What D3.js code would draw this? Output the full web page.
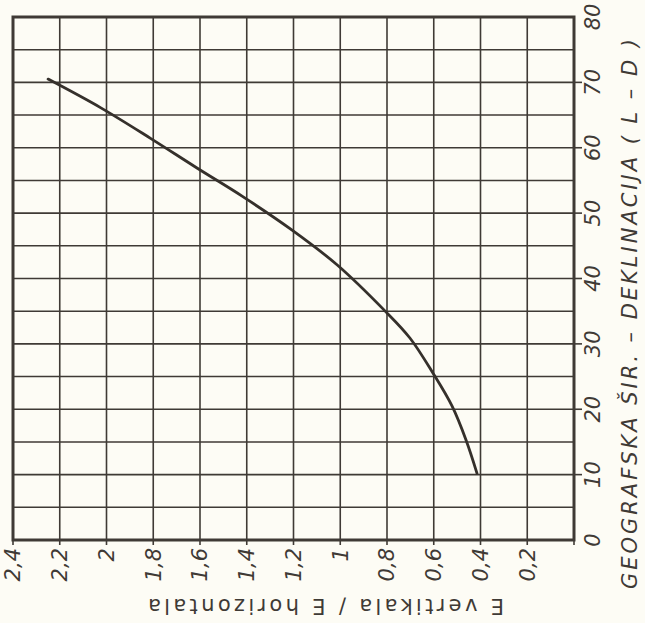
<!DOCTYPE html>
<html>
<head>
<meta charset="utf-8">
<script src="https://cdn.jsdelivr.net/npm/d3@7"></script>
<style>
  html, body { margin: 0; padding: 0; background: #fdfcf5; }
  svg { display: block; }
</style>
</head>
<body>
<svg id="chart" width="645" height="623"></svg>
<script>
// ---- data ----
const ratioValues = [2.25, 2.024, 1.81, 1.613, 1.42, 1.206, 1.014, 0.813, 0.702, 0.603, 0.522, 0.462, 0.415];
const latitudeValues = [70.5, 66.1, 61.4, 56.9, 52.6, 47.4, 42.1, 35.2, 30.9, 25.5, 20.5, 15.3, 10.2];
const ratioTicks = [2.4, 2.2, 2.0, 1.8, 1.6, 1.4, 1.2, 1.0, 0.8, 0.6, 0.4, 0.2];
const ratioTickLabels = ["2,4", "2,2", "2", "1,8", "1,6", "1,4", "1,2", "1", "0,8", "0,6", "0,4", "0,2"];
const latitudeTicks = [0, 10, 20, 30, 40, 50, 60, 70, 80];
const latitudeTickLabels = ["0", "10", "20", "30", "40", "50", "60", "70", "80"];
const xTitle = "E vertikala / E horizontala";
const yTitle = "GEOGRAFSKA ŠIR. – DEKLINACIJA ( L – D )";

// ---- layout ----
const pLeft = 13, pRight = 574, pTop = 17, pBottom = 540;
const ink = "#3f3a35";
const svg = d3.select("#chart");

const x = d3.scaleLinear().domain([2.4, 0]).range([pLeft, pRight]);
const y = d3.scaleLinear().domain([0, 80]).range([pBottom, pTop]);

const font = "'DejaVu Sans', sans-serif";

// grid
const g = svg.append("g");
g.selectAll("line.v").data(d3.range(0, 13).map(i => i * 0.2)).join("line")
  .attr("x1", d => x(d)).attr("x2", d => x(d))
  .attr("y1", pTop).attr("y2", pBottom + 5)
  .attr("stroke", ink).attr("stroke-width", 1.6);
g.selectAll("line.h").data(d3.range(0, 17).map(i => i * 5)).join("line")
  .attr("x1", pLeft).attr("x2", pRight)
  .attr("y1", d => y(d)).attr("y2", d => y(d))
  .attr("stroke", ink).attr("stroke-width", 1.6);

// right ticks at labeled latitudes
g.selectAll("line.rt").data(latitudeTicks.slice(1, -1)).join("line")
  .attr("x1", pRight).attr("x2", pRight + 8)
  .attr("y1", d => y(d)).attr("y2", d => y(d))
  .attr("stroke", ink).attr("stroke-width", 1.6);

// frame
svg.append("rect")
  .attr("x", pLeft).attr("y", pTop)
  .attr("width", pRight - pLeft).attr("height", pBottom - pTop)
  .attr("fill", "none").attr("stroke", ink).attr("stroke-width", 3);

// curve
const line = d3.line()
  .x((d, i) => x(ratioValues[i]))
  .y((d, i) => y(latitudeValues[i]))
  .curve(d3.curveCatmullRom.alpha(0.5));
svg.append("path")
  .attr("d", line(ratioValues))
  .attr("fill", "none").attr("stroke", "#35302b").attr("stroke-width", 2.8)
  .attr("stroke-linecap", "round");

// bottom tick labels (rotated)
svg.append("g").selectAll("text").data(ratioTicks).join("text")
  .attr("transform", d => `translate(${x(d)},${pBottom + 8}) rotate(-90)`)
  .attr("text-anchor", "end")
  .attr("dy", "0.35em")
  .attr("font-family", font).attr("font-style", "italic")
  .attr("font-size", 21).attr("fill", ink)
  .text((d, i) => ratioTickLabels[i]);

// right tick labels (rotated)
svg.append("g").selectAll("text").data(latitudeTicks).join("text")
  .attr("transform", d => `translate(${pRight + 19},${y(d)}) rotate(-90)`)
  .attr("text-anchor", "middle")
  .attr("dy", "0.35em")
  .attr("font-family", font).attr("font-style", "italic")
  .attr("font-size", 21).attr("fill", ink)
  .text((d, i) => latitudeTickLabels[i]);

// bottom title, upside down
svg.append("text")
  .attr("transform", `translate(326,606) rotate(180)`)
  .attr("text-anchor", "middle")
  .attr("dy", "0.35em")
  .attr("font-family", font)
  .attr("font-size", 21).attr("fill", ink)
  .attr("textLength", 356).attr("lengthAdjust", "spacing")
  .text(xTitle);

// right title
svg.append("text")
  .attr("transform", `translate(630,314) rotate(-90)`)
  .attr("text-anchor", "middle")
  .attr("dy", "0.35em")
  .attr("font-family", font).attr("font-style", "italic")
  .attr("font-size", 21).attr("fill", ink)
  .attr("textLength", 550).attr("lengthAdjust", "spacing")
  .text(yTitle);
</script>
</body>
</html>
